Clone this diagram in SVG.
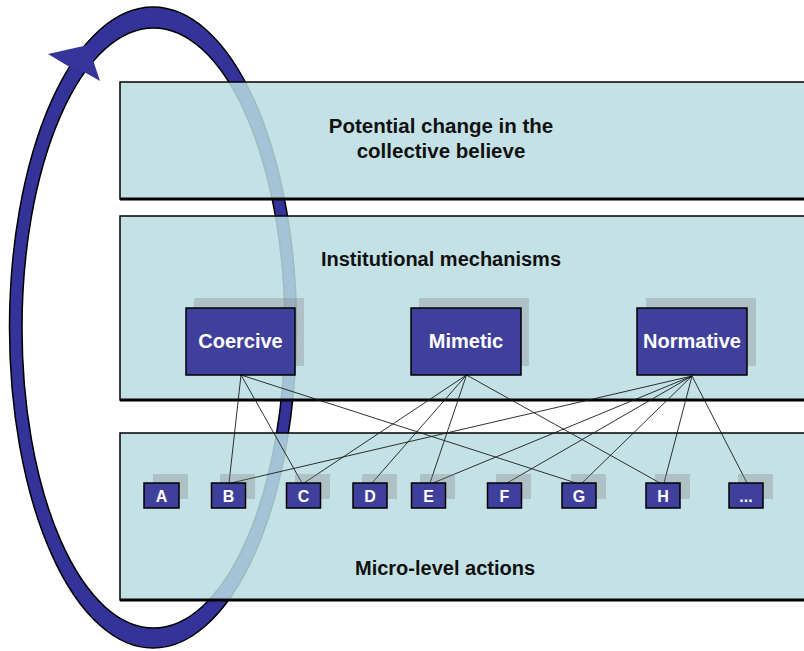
<svg xmlns="http://www.w3.org/2000/svg" width="804" height="651" viewBox="0 0 804 651">
<style>
.band{fill:rgb(186,221,226);fill-opacity:0.85;stroke:#000;stroke-width:1.5}
.bline{stroke:#000;stroke-width:3}
.lbl{font-family:"Liberation Sans",Arial,sans-serif;font-weight:bold;font-size:20px;fill:#111;text-anchor:middle}
.shadow{fill:#7f7f7f;fill-opacity:0.32}
.node{fill:#3f3f9c;stroke:#000;stroke-width:1.5}
.ntxt{font-family:"Liberation Sans",Arial,sans-serif;font-weight:bold;font-size:20px;fill:#fff;text-anchor:middle}
.stxt{font-family:"Liberation Sans",Arial,sans-serif;font-weight:bold;font-size:16px;fill:#fff;text-anchor:middle}
.conn line{stroke:#1a1a1a;stroke-width:0.9}
</style>
<rect width="804" height="651" fill="#fff"/>
<g id="cycle">
<path d="M 9.5 327.5 a 143.5 320.5 0 1 0 287 0 a 143.5 320.5 0 1 0 -287 0 Z M 22 328 a 131.5 300 0 1 0 263 0 a 131.5 300 0 1 0 -263 0 Z" fill="#333399" fill-rule="evenodd" stroke="#000" stroke-width="1.5"/>
<polygon points="88,45 48,54 68,66 86,73 100,81" fill="#35359c"/>
</g>
<g id="band-top">
<rect class="band" x="120" y="82" width="700" height="117"/>
<line class="bline" x1="120" y1="199" x2="804" y2="199"/>
<text class="lbl" x="441" y="133" style="font-size:20.5px">Potential change in the</text>
<text class="lbl" x="441" y="158" style="font-size:20.5px">collective believe</text>
</g>
<g id="band-middle">
<rect class="band" x="120" y="216" width="700" height="184"/>
<line class="bline" x1="120" y1="400" x2="804" y2="400"/>
<text class="lbl" x="441" y="266">Institutional mechanisms</text>
</g>
<g id="band-bottom">
<rect class="band" x="120" y="433" width="700" height="167"/>
<line class="bline" x1="120" y1="600" x2="804" y2="600"/>
<text class="lbl" x="445" y="575">Micro-level actions</text>
</g>
<g class="conn" id="connectors">
<line x1="241" y1="375" x2="229" y2="483"/>
<line x1="241" y1="375" x2="302" y2="483"/>
<line x1="241" y1="375" x2="576" y2="483"/>
<line x1="466.5" y1="375" x2="304" y2="483"/>
<line x1="466.5" y1="375" x2="372" y2="483"/>
<line x1="466.5" y1="375" x2="430" y2="483"/>
<line x1="466.5" y1="375" x2="660" y2="483"/>
<line x1="692" y1="376" x2="231" y2="483"/>
<line x1="692" y1="376" x2="433" y2="483"/>
<line x1="692" y1="376" x2="507" y2="483"/>
<line x1="692" y1="376" x2="582" y2="483"/>
<line x1="692" y1="376" x2="664" y2="483"/>
<line x1="692" y1="376" x2="747" y2="483"/>
</g>
<g id="coercive">
<rect class="shadow" x="194" y="298" width="110" height="68"/>
<rect class="node" x="186" y="308" width="109" height="67"/>
<text class="ntxt" x="240.5" y="348">Coercive</text>
</g>
<g id="mimetic">
<rect class="shadow" x="419" y="298" width="110" height="68"/>
<rect class="node" x="411" y="308" width="110" height="67"/>
<text class="ntxt" x="466" y="348">Mimetic</text>
</g>
<g id="normative">
<rect class="shadow" x="646" y="298" width="110" height="68"/>
<rect class="node" x="637" y="308" width="110" height="67"/>
<text class="ntxt" x="692" y="348">Normative</text>
</g>
<g id="a"><rect class="shadow" x="153" y="474" width="35" height="25"/><rect class="node" x="144" y="483" width="35" height="25"/><text class="stxt" x="161.5" y="501.5">A</text></g>
<g id="b"><rect class="shadow" x="220" y="474" width="35" height="25"/><rect class="node" x="211.5" y="483" width="34" height="25"/><text class="stxt" x="228.5" y="501.5">B</text></g>
<g id="c"><rect class="shadow" x="295" y="474" width="35" height="25"/><rect class="node" x="286.5" y="483" width="34" height="25"/><text class="stxt" x="303.5" y="501.5">C</text></g>
<g id="d"><rect class="shadow" x="362" y="474" width="35" height="25"/><rect class="node" x="353" y="483" width="34" height="25"/><text class="stxt" x="370" y="501.5">D</text></g>
<g id="e"><rect class="shadow" x="420" y="474" width="35" height="25"/><rect class="node" x="411.5" y="483" width="34" height="25"/><text class="stxt" x="428.5" y="501.5">E</text></g>
<g id="f"><rect class="shadow" x="496" y="474" width="35" height="25"/><rect class="node" x="487.5" y="483" width="34" height="25"/><text class="stxt" x="504.5" y="501.5">F</text></g>
<g id="g"><rect class="shadow" x="571" y="474" width="35" height="25"/><rect class="node" x="562" y="483" width="34" height="25"/><text class="stxt" x="579" y="501.5">G</text></g>
<g id="h"><rect class="shadow" x="655" y="474" width="35" height="25"/><rect class="node" x="646" y="483" width="34" height="25"/><text class="stxt" x="663" y="501.5">H</text></g>
<g id="more"><rect class="shadow" x="738" y="474" width="35" height="25"/><rect class="node" x="729" y="483" width="34" height="25"/><text class="stxt" x="746" y="501.5">...</text></g>
</svg>
